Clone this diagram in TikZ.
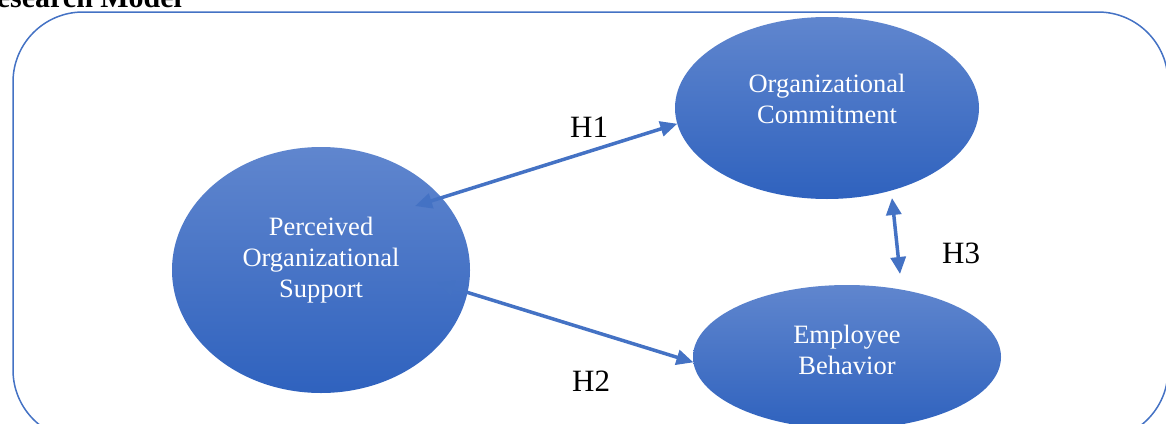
\documentclass[tikz,border=0pt]{standalone}
\usepackage{fontspec}
\setmainfont{Liberation Serif}
\usetikzlibrary{shapes.geometric, arrows.meta, positioning}
\definecolor{ofblue}{RGB}{68,114,196}
\definecolor{shadetop}{RGB}{96,134,206}
\definecolor{shadebot}{RGB}{47,98,190}
\tikzset{
    bubble/.style={
        ellipse,
        top color=shadetop, % lighter at the top
        bottom color=shadebot,
        draw=none,
        inner sep=0,
        outer sep=0
    },
    bubbletext/.style={
        text=white,
        align=center,
        inner sep=0,
        font=\fontsize{26.5}{31}\selectfont
    },
    hyp/.style={
        font=\fontsize{31}{36}\selectfont,
        anchor=base west,
        inner sep=0
    },
    link/.style={
        draw=ofblue,
        line width=3.5pt,
        {Triangle[length=17pt,width=15pt]}-{Triangle[length=17pt,width=15pt]}
    }
}

\begin{document}
\begin{tikzpicture}[x=1pt, y=1pt]
    \useasboundingbox (0,0) rectangle (1166,-423);
    \clip (0,0) rectangle (1166,-423);
    % frame and heading
    \draw[ofblue, line width=1.5pt, rounded corners=70pt] (13,-12) rectangle (1168,-440);
    \node[font=\fontsize{30}{34}\selectfont\bfseries, anchor=base west, inner sep=0] (title) at (-25,-7) {Research Model};
    % constructs
    \node[bubble, minimum width=298pt, minimum height=246pt,
        label={[bubbletext, name=pos-text, yshift=10pt]center:{Perceived\\Organizational\\Support}}] (pos) at (321,-270) {};
    \node[bubble, minimum width=304pt, minimum height=182pt,
        label={[bubbletext, name=oc-text, yshift=9pt]center:{Organizational\\Commitment}}] (oc) at (827,-108) {};
    \node[bubble, minimum width=308pt, minimum height=144pt,
        label={[bubbletext, name=eb-text, yshift=7pt]center:{Employee\\Behavior}}] (eb) at (847,-357) {};
    % arrow ends
    \coordinate (pos-h1) at (415,-206);
    \coordinate (pos-h2) at (437,-283);
    \coordinate (oc-h3) at (892,-198);
    \coordinate (eb-h3) at (900,-274);
    % hypotheses
    \draw[link] (pos-h1) -- (oc.186);
    \draw[link] (pos-h2) -- (eb.182);
    \draw[link] (oc-h3) -- (eb-h3);
    \node[hyp] (h1) at (570,-137) {H1};
    \node[hyp] (h2) at (572,-391) {H2};
    \node[hyp] (h3) at (942,-263) {H3};
\end{tikzpicture}
\end{document}
